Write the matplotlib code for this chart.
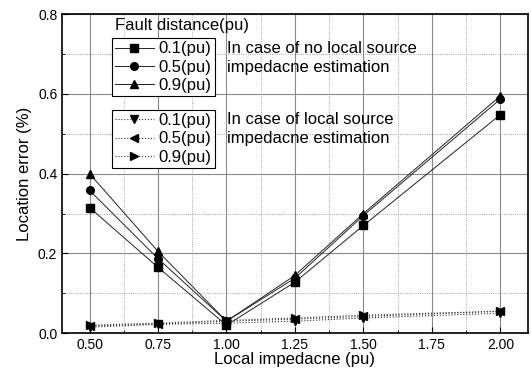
import numpy as np
import matplotlib
matplotlib.use("Agg")
import matplotlib.pyplot as plt
from matplotlib.ticker import MultipleLocator, FormatStrFormatter

plt.rcParams['font.family'] = ['Liberation Sans', 'DejaVu Sans']

# Data
impedance = [0.50, 0.75, 1.00, 1.25, 1.50, 2.00]

no_est_01 = [0.315, 0.165, 0.020, 0.128, 0.270, 0.548]
no_est_05 = [0.358, 0.187, 0.030, 0.138, 0.295, 0.587]
no_est_09 = [0.400, 0.205, 0.030, 0.145, 0.300, 0.595]

est_01 = [0.015, 0.022, 0.025, 0.030, 0.038, 0.050]
est_05 = [0.018, 0.023, 0.030, 0.035, 0.042, 0.055]
est_09 = [0.020, 0.025, 0.032, 0.038, 0.045, 0.055]

labels = ["0.1(pu)", "0.5(pu)", "0.9(pu)"]

fig = plt.figure(figsize=(5.31, 3.71), dpi=100)
ax = fig.add_axes([0.117, 0.102, 0.877, 0.86])

h1 = []
for ys, mk, lab in zip([no_est_01, no_est_05, no_est_09], ["s", "o", "^"], labels):
    l, = ax.plot(impedance, ys, color="#222222", lw=0.7, marker=mk, ms=5.5,
                 mfc="black", mec="black", label=lab)
    h1.append(l)

h2 = []
for ys, mk, lab in zip([est_01, est_05, est_09], ["v", "<", ">"], labels):
    l, = ax.plot(impedance, ys, color="#333333", lw=0.8, ls=":", marker=mk, ms=5.5,
                 mfc="black", mec="black", label=lab)
    h2.append(l)

ax.set_xlim(0.4, 2.1)
ax.set_ylim(0.0, 0.8)
ax.set_xticks([0.50, 0.75, 1.00, 1.25, 1.50, 1.75, 2.00])
ax.xaxis.set_minor_locator(MultipleLocator(0.125))
ax.yaxis.set_major_locator(MultipleLocator(0.2))
ax.yaxis.set_minor_locator(MultipleLocator(0.1))
ax.xaxis.set_major_formatter(FormatStrFormatter("%.2f"))
ax.yaxis.set_major_formatter(FormatStrFormatter("%.1f"))

ax.grid(which="major", color="#888888", lw=0.8, ls="-")
ax.grid(which="minor", color="#888888", lw=0.6, ls=":")
ax.tick_params(which="major", direction="in", length=4, labelsize=10)
ax.tick_params(which="minor", direction="in", length=2)
for s in ax.spines.values():
    s.set_linewidth(1.2)

ax.set_xlabel("Local impedacne (pu)", fontsize=12, labelpad=0)
ax.set_ylabel("Location error (%)", fontsize=12, labelpad=4)

leg_kw = dict(loc="upper left", fontsize=12, handlelength=2.3, borderpad=0.2,
              labelspacing=0.2, handletextpad=0.3, borderaxespad=0,
              fancybox=False, edgecolor="black", framealpha=1)
leg1 = ax.legend(handles=h1, bbox_to_anchor=(0.107, 0.925), **leg_kw)
leg1.get_frame().set_linewidth(0.8)
ax.add_artist(leg1)
leg2 = ax.legend(handles=h2, bbox_to_anchor=(0.107, 0.70), **leg_kw)
leg2.get_frame().set_linewidth(0.8)

ax.text(0.113, 0.965, "Fault distance(pu)", transform=ax.transAxes, fontsize=12, va="center")
ax.text(0.355, 0.862, "In case of no local source\nimpedacne estimation",
        transform=ax.transAxes, fontsize=12, va="center", linespacing=1.3)
ax.text(0.355, 0.640, "In case of local source\nimpedacne estimation",
        transform=ax.transAxes, fontsize=12, va="center", linespacing=1.3)

fig.savefig("out.png", dpi=100)
